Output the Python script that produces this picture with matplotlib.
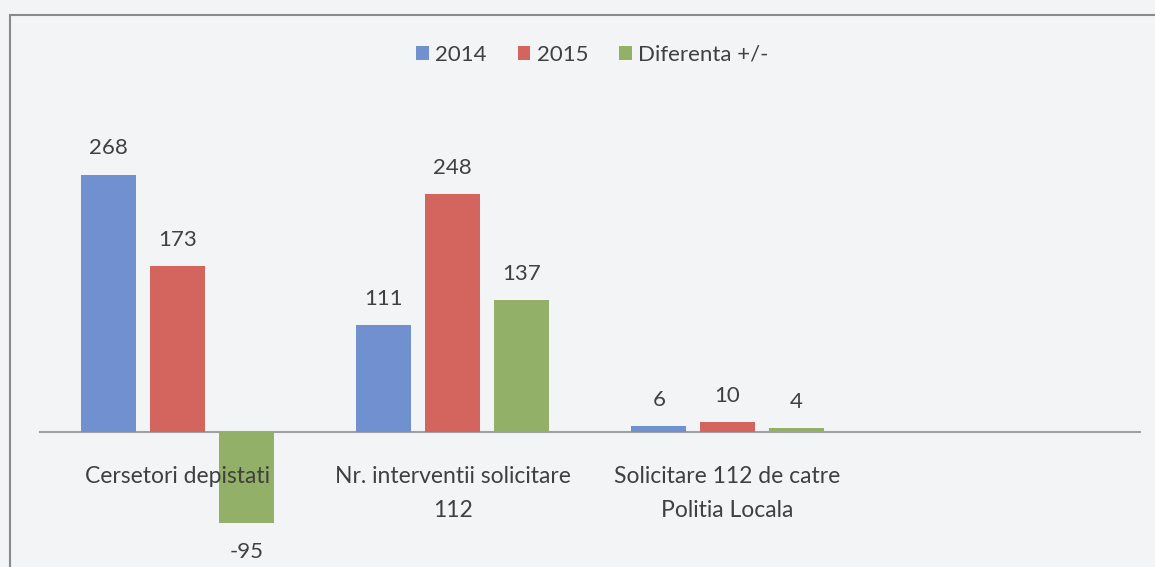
import numpy as np
import matplotlib.pyplot as plt
from matplotlib.patches import Rectangle

categories = ['Cersetori depistati', 'Nr. interventii solicitare\n112',
              'Solicitare 112 de catre\nPolitia Locala', '']
val_2014 = [268, 111, 6, None]
val_2015 = [173, 248, 10, None]
val_dif = [-95, 137, 4, None]
series = ['2014', '2015', 'Diferenta +/-']
colors = ['#7090d0', '#d4645e', '#93b069']

plt.rcParams['font.family'] = ['Lato', 'DejaVu Sans']
txt = '#404040'

fig = plt.figure(figsize=(11.55, 5.67), dpi=100)
fig.patch.set_facecolor('#f3f4f6')
ax = fig.add_axes([40/1155, 39/567, 1100/1155, 384/567])
ax.set_facecolor('none')

x = np.arange(len(categories))
w = 0.2
step = 0.25
for k, (vals, name, c) in enumerate(zip([val_2014, val_2015, val_dif], series, colors)):
    xs = [xi + (k - 1) * step for xi, v in zip(x, vals) if v is not None]
    vs = [v for v in vals if v is not None]
    ax.bar(xs, vs, width=w, color=c, label=name, zorder=2)
    for xi, v in zip(xs, vs):
        off = 19 if v >= 0 else -21
        ax.annotate(str(v), (xi, v), xytext=(0, off), textcoords='offset points',
                    ha='center', va='center', fontsize=16, color=txt)

ax.set_xlim(-0.5, 3.5)
ax.set_ylim(-100, 300)
ax.spines['bottom'].set_position(('data', 0))
ax.spines['bottom'].set_color('#a0a0a0')
ax.spines['bottom'].set_linewidth(1.5)
ax.spines['bottom'].set_zorder(1)
for s in ['top', 'left', 'right']:
    ax.spines[s].set_visible(False)
ax.set_yticks([])
ax.set_xticks(x)
ax.set_xticklabels(categories, fontsize=16.5, color=txt, linespacing=1.75)
ax.tick_params(axis='x', length=0, pad=24.5)
ax.xaxis.set_zorder(5)

ax.legend(loc='center', bbox_to_anchor=(0.513, 0.903), bbox_transform=fig.transFigure,
          ncol=3, frameon=False, fontsize=16, handlelength=0.55, handleheight=0.55,
          handletextpad=0.3, columnspacing=1.4, labelcolor=txt)

# chart area border
fig.add_artist(Rectangle((10/1155, -0.1), 1.2, 1 - 15/567 + 0.1, transform=fig.transFigure,
                         fill=False, edgecolor='#8a8a8a', linewidth=1.5, clip_on=False))

fig.savefig('out.png', dpi=100, facecolor=fig.get_facecolor())
